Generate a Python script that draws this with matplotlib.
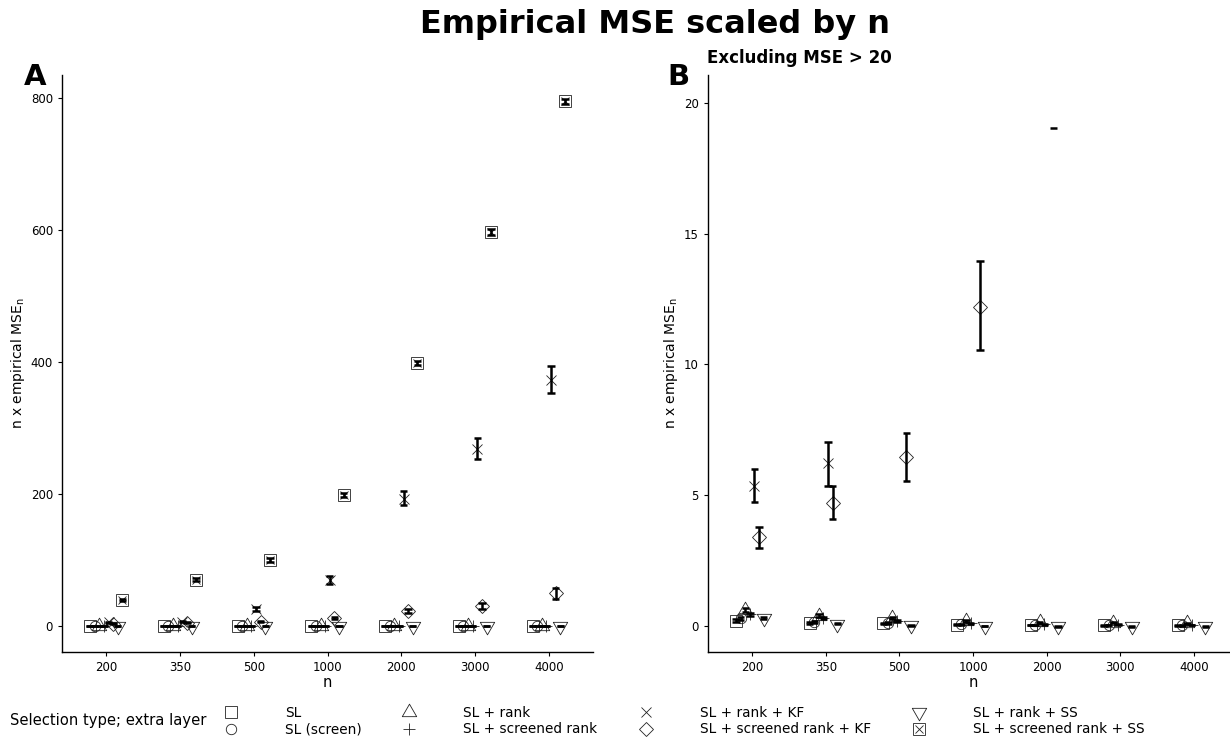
import numpy as np
import matplotlib
matplotlib.use("Agg")
import matplotlib.pyplot as plt
from matplotlib.lines import Line2D
from matplotlib.path import Path

# ---------------- data ----------------
n_labels = ["200", "350", "500", "1000", "2000", "3000", "4000"]

series_names = ["SL", "SL (screen)", "SL + rank", "SL + screened rank",
                "SL + rank + KF", "SL + screened rank + KF",
                "SL + rank + SS", "SL + screened rank + SS"]

sl_est = [0.20, 0.12, 0.10, 0.05, 0.03, 0.02, 0.02]
sl_lo = [0.15, 0.09, 0.07, 0.04, 0.02, 0.015, 0.015]
sl_hi = [0.25, 0.15, 0.13, 0.06, 0.04, 0.025, 0.025]

slscr_est = [0.30, 0.15, 0.12, 0.06, 0.04, 0.03, 0.02]
slscr_lo = [0.24, 0.12, 0.09, 0.05, 0.03, 0.02, 0.015]
slscr_hi = [0.36, 0.18, 0.15, 0.07, 0.05, 0.04, 0.025]

rank_est = [0.60, 0.40, 0.32, 0.20, 0.14, 0.12, 0.10]
rank_lo = [0.52, 0.35, 0.28, 0.17, 0.12, 0.10, 0.08]
rank_hi = [0.68, 0.45, 0.36, 0.23, 0.16, 0.14, 0.12]

scrrank_est = [0.45, 0.30, 0.20, 0.10, 0.06, 0.05, 0.04]
scrrank_lo = [0.40, 0.26, 0.17, 0.08, 0.05, 0.04, 0.03]
scrrank_hi = [0.50, 0.34, 0.23, 0.12, 0.07, 0.06, 0.05]

rankkf_est = [5.37, 6.22, 26.0, 70.0, 193.0, 268.0, 373.0]
rankkf_lo = [4.73, 5.37, 22.5, 64.0, 183.0, 253.0, 352.6]
rankkf_hi = [5.99, 7.05, 29.5, 76.0, 205.0, 284.4, 394.4]

scrrankkf_est = [3.39, 4.72, 6.47, 12.2, 22.7, 31.0, 49.5]
scrrankkf_lo = [2.97, 4.09, 5.53, 10.55, 19.06, 26.5, 41.5]
scrrankkf_hi = [3.80, 5.35, 7.39, 13.96, 26.3, 35.5, 57.0]

rankss_est = [0.30, 0.08, 0.02, 0.00, -0.01, -0.01, -0.01]
rankss_lo = [0.26, 0.06, 0.01, -0.01, -0.02, -0.02, -0.02]
rankss_hi = [0.34, 0.10, 0.03, 0.01, 0.00, 0.00, 0.00]

scrrankss_est = [40.0, 70.0, 100.0, 199.0, 398.0, 597.0, 795.0]
scrrankss_lo = [38.5, 68.0, 97.5, 196.0, 395.0, 593.0, 791.0]
scrrankss_hi = [41.5, 72.0, 102.5, 202.0, 401.0, 601.0, 799.0]

series_est = [sl_est, slscr_est, rank_est, scrrank_est,
              rankkf_est, scrrankkf_est, rankss_est, scrrankss_est]
series_lo = [sl_lo, slscr_lo, rank_lo, scrrank_lo,
             rankkf_lo, scrrankkf_lo, rankss_lo, scrrankss_lo]
series_hi = [sl_hi, slscr_hi, rank_hi, scrrank_hi,
             rankkf_hi, scrrankkf_hi, rankss_hi, scrrankss_hi]

CUTOFF = 20.0

# ---------------- marker styles ----------------
r0, c1, c2 = 1.55, 1.34, 0.775
tri_up = Path([(0, r0), (c1, -c2), (-c1, -c2), (0, r0)], closed=True)
tri_dn = Path([(0, -r0), (c1, c2), (-c1, c2), (0, -r0)], closed=True)

marker_specs = [
    dict(marker="s", ms=8.0),
    dict(marker="o", ms=7.5),
    dict(marker=tri_up, ms=12.0),
    dict(marker="+", ms=9.0),
    dict(marker="x", ms=7.5),
    dict(marker="D", ms=7.4),
    dict(marker=tri_dn, ms=12.0),
    dict(marker="boxx", ms=8.0),
]

EDGE_W = 0.6
EDGE_C = "#222222"
ERR_W = 1.8
CAP_HALF = 0.05
DODGE = 0.5
NGROUP = len(series_names)

plt.rcParams["font.family"] = ["DejaVu Sans"]

W, H = 1230, 738
fig = plt.figure(figsize=(W / 100, H / 100), dpi=100)


def frac_box(l, r, t, b):
    return [l / W, 1 - b / H, (r - l) / W, (b - t) / H]


def draw_markers(ax, x, y, spec, z=3):
    mk = spec["marker"]
    ms = spec["ms"]
    if mk == "boxx":
        ax.plot(x, y, ls="none", marker="s", ms=ms, mfc="none", mec=EDGE_C,
                mew=EDGE_W, zorder=z)
        ax.plot(x, y, ls="none", marker="x", ms=ms * 0.75, mec=EDGE_C,
                mew=EDGE_W, zorder=z)
    else:
        ax.plot(x, y, ls="none", marker=mk, ms=ms, mfc="none", mec=EDGE_C,
                mew=EDGE_W, zorder=z)


def draw_panel(ax, cutoff=None):
    xc = np.arange(len(n_labels))
    for i in range(NGROUP):
        off = DODGE * ((i + 0.5) / NGROUP - 0.5)
        x = xc + off
        est = np.array(series_est[i], dtype=float)
        lo = np.array(series_lo[i], dtype=float)
        hi = np.array(series_hi[i], dtype=float)
        if cutoff is None:
            keep_pt = np.ones_like(est, bool)
            keep_hi = np.ones_like(est, bool)
            keep_lo = np.ones_like(est, bool)
        else:
            keep_pt = est <= cutoff
            keep_hi = hi <= cutoff
            keep_lo = lo <= cutoff
        draw_markers(ax, x[keep_pt], est[keep_pt], marker_specs[i])
        vmask = keep_hi & keep_lo
        ax.vlines(x[vmask], lo[vmask], hi[vmask], color="black", lw=ERR_W, zorder=4)
        ax.hlines(hi[keep_hi], x[keep_hi] - CAP_HALF, x[keep_hi] + CAP_HALF,
                  color="black", lw=ERR_W, zorder=4)
        ax.hlines(lo[keep_lo], x[keep_lo] - CAP_HALF, x[keep_lo] + CAP_HALF,
                  color="black", lw=ERR_W, zorder=4)
    ax.set_xticks(xc)
    ax.set_xticklabels(n_labels)
    ax.set_xlim(-0.6, len(n_labels) - 0.4)
    for s in ["top", "right"]:
        ax.spines[s].set_visible(False)
    ax.spines["left"].set_linewidth(1.0)
    ax.spines["bottom"].set_linewidth(1.0)
    ax.tick_params(axis="both", labelsize=8.5, length=3, width=0.8, color="black")
    ax.set_xlabel("n", fontsize=10.5, labelpad=1)
    ax.set_ylabel(r"n x empirical MSE$_\mathregular{n}$", fontsize=10, labelpad=3)


axA = fig.add_axes(frac_box(62, 593, 75, 652))
draw_panel(axA)
axA.set_ylim(-39.4, 834.8)
axA.set_yticks([0, 200, 400, 600, 800])

axB = fig.add_axes(frac_box(708, 1238, 75, 652))
draw_panel(axB, cutoff=CUTOFF)
axB.set_ylim(-0.994, 21.07)
axB.set_yticks([0, 5, 10, 15, 20])

fig.text(655 / W, 1 - 25 / H, "Empirical MSE scaled by n", fontsize=23,
         fontweight="bold", ha="center", va="center")
fig.text(35 / W, 1 - 77 / H, "A", fontsize=21, fontweight="bold",
         ha="center", va="center")
fig.text(678 / W, 1 - 77 / H, "B", fontsize=21, fontweight="bold",
         ha="center", va="center")
fig.text(707 / W, 1 - 58 / H, "Excluding MSE > 20", fontsize=12,
         fontweight="bold", ha="left", va="center")

# ---------------- legend ----------------
handles = []
for spec in marker_specs:
    if spec["marker"] == "boxx":
        h1 = Line2D([], [], ls="none", marker="s", ms=spec["ms"], mfc="none",
                    mec=EDGE_C, mew=EDGE_W)
        h2 = Line2D([], [], ls="none", marker="x", ms=spec["ms"] * 0.75,
                    mec=EDGE_C, mew=EDGE_W)
        handles.append((h1, h2))
    else:
        handles.append(Line2D([], [], ls="none", marker=spec["marker"],
                              ms=spec["ms"], mfc="none", mec=EDGE_C, mew=EDGE_W))

fig.text(10 / W, 1 - 721 / H, "Selection type; extra layer", fontsize=10.6,
         ha="left", va="center")
leg = fig.legend(handles, series_names, ncol=4, frameon=False, fontsize=9.8,
                 loc="center left", bbox_to_anchor=(217 / W, 1 - 721 / H),
                 handlelength=2.0, handletextpad=2.97, columnspacing=2.53,
                 labelspacing=0.2, borderaxespad=0, borderpad=0)

fig.savefig("out.png", dpi=100)
